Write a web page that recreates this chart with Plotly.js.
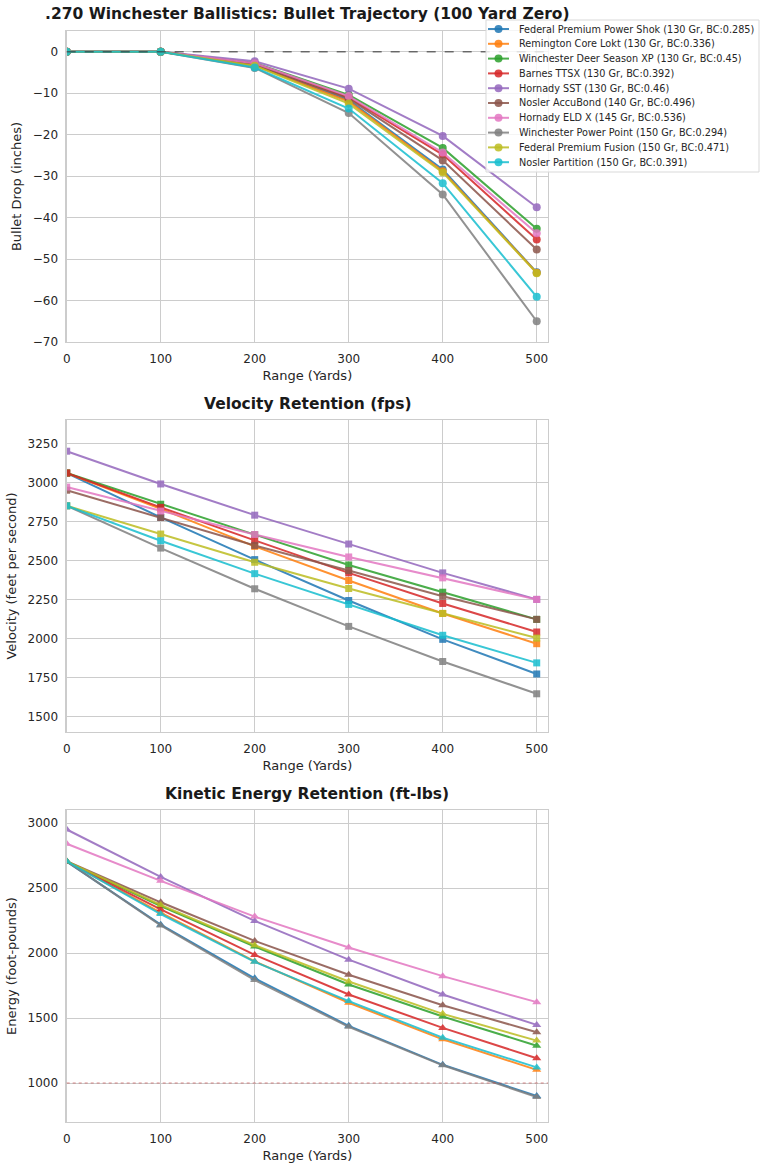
<!DOCTYPE html>
<html>
<head>
<meta charset="utf-8">
<script src="https://cdn.plot.ly/plotly-3.0.1.min.js"></script>
<style>
html,body{margin:0;padding:0;background:#fff;}
#chart{width:768px;height:1169px;}
</style>
</head>
<body>
<div id="chart"></div>
<script>
// ---- data ----
const ranges = [0, 100, 200, 300, 400, 500];
const rangeTicks = [0, 100, 200, 300, 400, 500];

const loadNames = [
  "Federal Premium Power Shok (130 Gr, BC:0.285)",
  "Remington Core Lokt (130 Gr, BC:0.336)",
  "Winchester Deer Season XP (130 Gr, BC:0.45)",
  "Barnes TTSX (130 Gr, BC:0.392)",
  "Hornady SST (130 Gr, BC:0.46)",
  "Nosler AccuBond (140 Gr, BC:0.496)",
  "Hornady ELD X (145 Gr, BC:0.536)",
  "Winchester Power Point (150 Gr, BC:0.294)",
  "Federal Premium Fusion (150 Gr, BC:0.471)",
  "Nosler Partition (150 Gr, BC:0.391)"
];

const colors = ["#1f77b4","#ff7f0e","#2ca02c","#d62728","#9467bd",
                "#8c564b","#e377c2","#7f7f7f","#bcbd22","#17becf"];

// Bullet drop (inches)
const dropFederalPowerShok   = [0, 0, -3.3, -11.7, -28.4, -53.2];
const dropRemingtonCoreLokt  = [0, 0, -3.3, -12.0, -28.8, -53.3];
const dropWinchesterDeerXP   = [0, 0, -2.7, -10.4, -23.2, -42.7];
const dropBarnesTTSX         = [0, 0, -2.9, -11.1, -24.8, -45.3];
const dropHornadySST         = [0, 0, -2.3, -8.9,  -20.3, -37.5];
const dropNoslerAccuBond     = [0, 0, -3.1, -11.3, -26.2, -47.7];
const dropHornadyELDX        = [0, 0, -2.8, -10.7, -24.3, -43.8];
const dropWinchesterPP       = [0, 0, -3.9, -14.8, -34.4, -65.0];
const dropFederalFusion      = [0, 0, -3.4, -12.5, -29.1, -53.4];
const dropNoslerPartition    = [0, 0, -3.8, -13.7, -31.7, -59.1];

// Velocity (fps)
const velFederalPowerShok    = [3060, 2776, 2505, 2243, 1994, 1772];
const velRemingtonCoreLokt   = [3060, 2830, 2590, 2371, 2160, 1966];
const velWinchesterDeerXP    = [3060, 2860, 2665, 2471, 2296, 2122];
const velBarnesTTSX          = [3060, 2840, 2628, 2420, 2224, 2041];
const velHornadySST          = [3200, 2990, 2790, 2605, 2420, 2250];
const velNoslerAccuBond      = [2950, 2775, 2596, 2435, 2270, 2122];
const velHornadyELDX         = [2970, 2816, 2666, 2522, 2388, 2250];
const velWinchesterPP        = [2850, 2579, 2318, 2077, 1852, 1645];
const velFederalFusion       = [2850, 2669, 2488, 2320, 2160, 2002];
const velNoslerPartition     = [2850, 2626, 2415, 2218, 2020, 1843];

// Kinetic energy (ft-lbs)
const nrgFederalPowerShok    = [2703, 2218, 1805, 1440, 1140, 900];
const nrgRemingtonCoreLokt   = [2703, 2310, 1935, 1617, 1336, 1101];
const nrgWinchesterDeerXP    = [2703, 2360, 2050, 1758, 1511, 1287];
const nrgBarnesTTSX          = [2703, 2335, 1985, 1681, 1424, 1190];
const nrgHornadySST          = [2950, 2585, 2247, 1949, 1681, 1447];
const nrgNoslerAccuBond      = [2706, 2390, 2093, 1833, 1598, 1390];
const nrgHornadyELDX         = [2840, 2555, 2280, 2042, 1822, 1622];
const nrgWinchesterPP        = [2705, 2212, 1792, 1432, 1136, 892];
const nrgFederalFusion       = [2705, 2369, 2060, 1781, 1532, 1326];
const nrgNoslerPartition     = [2705, 2300, 1932, 1630, 1349, 1120];

const dropSeries = [dropFederalPowerShok, dropRemingtonCoreLokt, dropWinchesterDeerXP, dropBarnesTTSX,
  dropHornadySST, dropNoslerAccuBond, dropHornadyELDX, dropWinchesterPP, dropFederalFusion, dropNoslerPartition];
const velSeries = [velFederalPowerShok, velRemingtonCoreLokt, velWinchesterDeerXP, velBarnesTTSX,
  velHornadySST, velNoslerAccuBond, velHornadyELDX, velWinchesterPP, velFederalFusion, velNoslerPartition];
const nrgSeries = [nrgFederalPowerShok, nrgRemingtonCoreLokt, nrgWinchesterDeerXP, nrgBarnesTTSX,
  nrgHornadySST, nrgNoslerAccuBond, nrgHornadyELDX, nrgWinchesterPP, nrgFederalFusion, nrgNoslerPartition];

const zeroLineValue = 0;
const energyThreshold = 1000;

const titleTop = ".270 Winchester Ballistics: Bullet Trajectory (100 Yard Zero)";
const titleVel = "Velocity Retention (fps)";
const titleNrg = "Kinetic Energy Retention (ft-lbs)";

// ---- traces ----
const FONT = "DejaVu Sans, Verdana, sans-serif";
const OPAC = 0.85;
const traces = [];
function addSet(series, xa, ya, symbol, msize) {
  series.forEach((vals, i) => {
    traces.push({
      type: "scatter", mode: "lines+markers",
      x: ranges, y: vals, xaxis: xa, yaxis: ya,
      name: loadNames[i], showlegend: false,
      opacity: OPAC,
      line: {color: colors[i], width: 2},
      marker: {color: colors[i], size: msize, symbol: symbol}
    });
  });
}
addSet(dropSeries, "x", "y", "circle", 8);
addSet(velSeries, "x2", "y2", "square", 7);
addSet(nrgSeries, "x3", "y3", "triangle-up", 8);

// ---- layout ----
const W = 768, H = 1169;
const px = v => v / W;
const py = v => 1 - v / H;
const xDom = [px(66.7), px(548)];
function yDom(top, bottom) { return [py(bottom), py(top)]; }

function xAxis(anchor) {
  return {
    domain: xDom, anchor: anchor, range: [0, 512],
    tickvals: rangeTicks, ticks: "", ticklabelstandoff: 5,
    showgrid: true, gridcolor: "#cccccc", gridwidth: 1,
    zeroline: false, showline: true, linecolor: "#cccccc", linewidth: 1.25, mirror: true,
    tickfont: {family: FONT, size: 12, color: "#262626"},
    title: {text: "Range (Yards)", font: {family: FONT, size: 13, color: "#262626"}, standoff: 6},
    automargin: false
  };
}
function yAxis(anchor, dom, range, dtick, title) {
  return {
    domain: dom, anchor: anchor, range: range, dtick: dtick, tick0: 0, ticks: "",
    ticklabelstandoff: 5,
    showgrid: true, gridcolor: "#cccccc", gridwidth: 1,
    zeroline: false, showline: true, linecolor: "#cccccc", linewidth: 1.25, mirror: true,
    tickfont: {family: FONT, size: 12, color: "#262626"},
    title: {text: title, font: {family: FONT, size: 13, color: "#262626"}, standoff: 8},
    automargin: false
  };
}

// legend (drawn as layout decoration, top-right, overlapping first panel)
const legBox = {left: 486, top: 20, right: 759, bottom: 172};
const legRow0 = 29, legRowStep = 14.8;
const legLineX = [488, 509], legMarkX = 498.5, legTextX = 516.5;

const shapes = [
  {type: "line", xref: "x domain", yref: "y", x0: 0, x1: 1, y0: zeroLineValue, y1: zeroLineValue,
   line: {color: "rgba(60,60,60,0.7)", width: 1.5, dash: "dash"}, layer: "above"},
  {type: "line", xref: "x3 domain", yref: "y3", x0: 0, x1: 1, y0: energyThreshold, y1: energyThreshold,
   line: {color: "rgba(190,60,60,0.6)", width: 1, dash: "dot"}, layer: "above"},
  {type: "rect", xref: "paper", yref: "paper",
   x0: px(legBox.left), x1: px(legBox.right), y0: py(legBox.bottom), y1: py(legBox.top),
   fillcolor: "rgba(255,255,255,0.8)", line: {color: "#d9d9d9", width: 1}, layer: "above"}
];
const annotations = [
  {text: "<b>" + titleTop + "</b>", xref: "paper", yref: "paper", x: px(307), y: py(14),
   xanchor: "center", yanchor: "middle", showarrow: false, font: {family: FONT, size: 15.5, color: "#1a1a1a"}},
  {text: "<b>" + titleVel + "</b>", xref: "paper", yref: "paper", x: px(307), y: py(404),
   xanchor: "center", yanchor: "middle", showarrow: false, font: {family: FONT, size: 15.5, color: "#1a1a1a"}},
  {text: "<b>" + titleNrg + "</b>", xref: "paper", yref: "paper", x: px(307), y: py(794),
   xanchor: "center", yanchor: "middle", showarrow: false, font: {family: FONT, size: 15.5, color: "#1a1a1a"}}
];
loadNames.forEach((name, i) => {
  const rowY = legRow0 + legRowStep * i;
  shapes.push({type: "line", xref: "paper", yref: "paper",
    x0: px(legLineX[0]), x1: px(legLineX[1]), y0: py(rowY), y1: py(rowY),
    line: {color: colors[i], width: 2}, opacity: OPAC, layer: "above"});
  shapes.push({type: "circle", xref: "paper", yref: "paper",
    x0: px(legMarkX - 4), x1: px(legMarkX + 4), y0: py(rowY + 4), y1: py(rowY - 4),
    fillcolor: colors[i], line: {color: colors[i], width: 0}, opacity: OPAC, layer: "above"});
  annotations.push({text: name, xref: "paper", yref: "paper", x: px(legTextX), y: py(rowY),
    xanchor: "left", yanchor: "middle", showarrow: false,
    font: {family: FONT, size: 9.7, color: "#262626"}});
});

const layout = {
  width: W, height: H,
  margin: {l: 0, r: 0, t: 0, b: 0},
  paper_bgcolor: "#ffffff", plot_bgcolor: "#ffffff",
  font: {family: FONT, color: "#262626"},
  xaxis: xAxis("y"),
  xaxis2: xAxis("y2"),
  xaxis3: xAxis("y3"),
  yaxis: yAxis("x", yDom(31, 342), [-70, 5], 10, "Bullet Drop (inches)"),
  yaxis2: yAxis("x2", yDom(420, 732), [1400, 3400], 250, "Velocity (feet per second)"),
  yaxis3: yAxis("x3", yDom(810, 1122), [700, 3100], 500, "Energy (foot-pounds)"),
  showlegend: false,
  shapes: shapes,
  annotations: annotations
};

Plotly.newPlot("chart", traces, layout, {displayModeBar: false, staticPlot: true});
</script>
</body>
</html>
